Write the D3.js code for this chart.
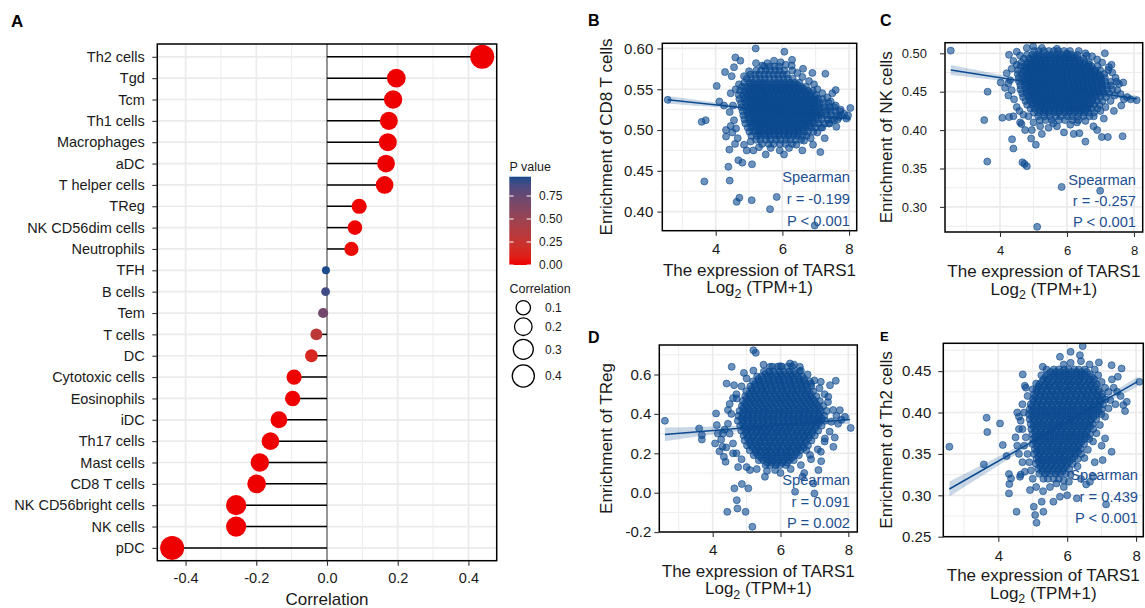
<!DOCTYPE html>
<html>
<head>
<meta charset="utf-8">
<title>TARS1 and immune infiltration</title>
<script src="https://cdn.jsdelivr.net/npm/d3@7/dist/d3.min.js"></script>
<style>
  html, body { margin: 0; padding: 0; background: #fff; }
  svg { display: block; }
  text { font-family: "Liberation Sans", Arial, Helvetica, sans-serif; }
</style>
</head>
<body>
<svg id="fig" width="1145" height="608"></svg>
<script>
// ---------- Panel A: Spearman correlation of TARS1 with immune cell enrichment ----------
const cellTypes = ["Th2 cells","Tgd","Tcm","Th1 cells","Macrophages","aDC","T helper cells","TReg",
  "NK CD56dim cells","Neutrophils","TFH","B cells","Tem","T cells","DC","Cytotoxic cells","Eosinophils",
  "iDC","Th17 cells","Mast cells","CD8 T cells","NK CD56bright cells","NK cells","pDC"];
const correlations = [0.439,0.196,0.187,0.175,0.172,0.167,0.163,0.091,0.079,0.069,-0.003,-0.004,
  -0.011,-0.030,-0.044,-0.093,-0.097,-0.136,-0.160,-0.190,-0.199,-0.257,-0.257,-0.438];
const pValues = [0,0,0,0,0,0,0,0.002,0.008,0.02,0.96,0.89,0.70,0.31,0.14,0.002,0.001,0,0,0,0,0,0,0];
const corrTicks = [-0.4,-0.2,0,0.2,0.4];
const corrMinor = [-0.3,-0.1,0.1,0.3];
const pLegendTicks = [0,0.25,0.5,0.75];
const sizeLegendValues = [0.1,0.2,0.3,0.4];

// ---------- Panels B-E: enrichment score vs TARS1 expression ----------
const scatterTitles = ["Enrichment of CD8 T cells","Enrichment of NK cells","Enrichment of TReg","Enrichment of Th2 cells"];
const spearmanR = ["-0.199","-0.257","0.091","0.439"];
const spearmanP = ["P < 0.001","P < 0.001","P = 0.002","P < 0.001"];
const exprTicks = [4,6,8];
const exprMinor = [3,5,7];
const scatterYTicks = [[0.40,0.45,0.50,0.55,0.60],[0.30,0.35,0.40,0.45,0.50],[-0.2,0,0.2,0.4,0.6],[0.25,0.30,0.35,0.40,0.45]];
const scatterYMinor = [[0.425,0.475,0.525,0.575],[0.275,0.325,0.375,0.425,0.475],[-0.1,0.1,0.3,0.5,0.7],[0.275,0.325,0.375,0.425,0.475]];
// linear fit: [x start, y start, x end, y end]
const fitEnds = [[2.56,0.537,8.05,0.5135],[2.53,0.4783,8.08,0.4405],[2.59,0.296,8.05,0.372],[2.58,0.3076,8.04,0.4372]];
// confidence half-width: [at mean expression, at lowest expression]
const bandHalfWidth = [[0.0012,0.0047],[0.0015,0.0065],[0.007,0.034],[0.002,0.009]];
const meanExpr = 5.9;

// CD8 T cells: scattered samples [expression, enrichment]
const cd8Spread = [[2.56,0.537],[3.58,0.510],[3.70,0.512],[3.66,0.437],[4.03,0.554],[4.11,0.535],[4.28,0.571],[4.38,0.455],[4.42,0.438],[4.31,0.500],[4.31,0.492],[4.59,0.589],[4.74,0.585],[4.55,0.577],[4.48,0.566],[4.68,0.463],[4.80,0.460],[4.63,0.412],[4.71,0.417],[5.09,0.458],[5.08,0.414],[5.20,0.600],[5.21,0.582],[5.63,0.403],[5.83,0.418],[6.06,0.596],[6.29,0.586],[6.28,0.579],[6.97,0.383],[7.29,0.569],[7.60,0.549],[8.04,0.527],[7.14,0.473],[7.62,0.504],[6.92,0.482],[4.41,0.476],[4.58,0.483],[4.93,0.475],[5.13,0.475],[5.92,0.475],[6.42,0.482],[7.27,0.490],
 [4.45,0.545],[4.52,0.530],[4.42,0.522],[4.55,0.512],[4.61,0.502],[4.50,0.497],[4.66,0.490],[4.85,0.482],[5.05,0.486],[5.30,0.479],[5.65,0.478],[6.20,0.478],[6.65,0.487],[6.85,0.490],[7.05,0.497],[7.20,0.503],[7.40,0.508],[7.55,0.512],[7.70,0.516],[7.85,0.520],[7.92,0.514],[7.75,0.525],[7.60,0.530],[7.45,0.535],[7.35,0.540],[7.20,0.545],[7.05,0.550],[6.95,0.556],[6.80,0.560],[6.60,0.565],[6.45,0.570],[6.30,0.573],[6.62,0.575],[6.10,0.580],[5.95,0.583],[5.75,0.585],[5.55,0.582],[5.40,0.579],[5.00,0.572],[4.85,0.566],[4.70,0.556],[4.60,0.550],[7.50,0.545],[6.90,0.570],[4.45,0.505],[4.25,0.530],[5.50,0.470],[6.05,0.470],[6.60,0.475],[7.35,0.525],[7.97,0.518]];
// CD8 T cells: dense samples grouped by enrichment level [enrichment, [expression...]]
const cd8Rows = [
 [0.578,[5.45,5.62,5.76,5.9]],
 [0.573,[5.22,5.36,5.5,5.63,5.79,5.92,6.06]],
 [0.568,[5.04,5.19,5.31,5.46,5.59,5.73,5.86,6.01,6.13]],
 [0.563,[4.93,5.06,5.21,5.34,5.47,5.61,5.76,5.89,6.03,6.17,6.31]],
 [0.558,[4.86,5.01,5.13,5.28,5.41,5.54,5.69,5.83,5.96,6.09,6.23,6.37,6.51]],
 [0.553,[4.79,4.91,5.06,5.19,5.33,5.46,5.59,5.73,5.87,6.01,6.14,6.29,6.43,6.57,6.71]],
 [0.548,[4.73,4.86,4.99,5.13,5.26,5.39,5.53,5.67,5.81,5.94,6.07,6.21,6.34,6.49,6.63,6.77,6.91]],
 [0.543,[4.69,4.83,4.96,5.09,5.21,5.36,5.49,5.61,5.76,5.89,6.03,6.16,6.29,6.43,6.57,6.71,6.84,7.01]],
 [0.538,[4.71,4.85,5.01,5.14,5.26,5.41,5.54,5.69,5.81,5.96,6.09,6.23,6.37,6.49,6.64,6.77,6.93,7.07,7.21]],
 [0.533,[4.76,4.89,5.03,5.15,5.29,5.44,5.56,5.71,5.84,5.99,6.11,6.26,6.39,6.54,6.67,6.81,6.94,7.11,7.24,7.39]],
 [0.528,[4.77,4.91,5.06,5.19,5.34,5.46,5.61,5.73,5.89,6.01,6.14,6.29,6.41,6.57,6.69,6.83,6.99,7.13,7.27,7.43,7.56]],
 [0.523,[4.81,4.94,5.09,5.21,5.37,5.49,5.64,5.76,5.91,6.03,6.19,6.31,6.46,6.59,6.74,6.86,7.01,7.14,7.31,7.44,7.59,7.73]],
 [0.518,[4.83,4.96,5.11,5.24,5.39,5.51,5.67,5.79,5.94,6.06,6.21,6.34,6.49,6.61,6.77,6.89,7.04,7.17,7.33,7.47,7.63,7.77]],
 [0.513,[4.86,4.99,5.14,5.26,5.41,5.54,5.69,5.81,5.97,6.09,6.24,6.36,6.51,6.64,6.79,6.91,7.07,7.19,7.36,7.49,7.66]],
 [0.508,[4.89,5.04,5.16,5.31,5.43,5.59,5.71,5.86,5.99,6.14,6.26,6.41,6.53,6.69,6.81,6.96,7.09,7.26,7.41]],
 [0.503,[4.96,5.07,5.23,5.34,5.49,5.61,5.77,5.89,6.04,6.16,6.31,6.44,6.59,6.71,6.87,6.99,7.16]],
 [0.498,[5.01,5.13,5.28,5.39,5.56,5.67,5.83,5.94,6.11,6.22,6.38,6.49,6.66,6.77,6.93]],
 [0.493,[5.07,5.23,5.34,5.51,5.62,5.78,5.89,6.06,6.17,6.33,6.44,6.61,6.73]],
 [0.488,[5.21,5.34,5.51,5.64,5.81,5.94,6.11,6.24,6.41,6.56]],
 [0.483,[5.39,5.59,5.74,5.93,6.09,6.29]],
 [0.5555,[5.07,5.2,5.34,5.48,5.62,5.76,5.9,6.03,6.17,6.31,6.45]],
 [0.5505,[4.98,5.12,5.26,5.4,5.53,5.67,5.8,5.95,6.08,6.22,6.36,6.5,6.64]],
 [0.5455,[4.92,5.05,5.19,5.33,5.46,5.6,5.74,5.88,6.01,6.15,6.29,6.42,6.56,6.7,6.84]],
 [0.5405,[4.9,5.04,5.18,5.31,5.45,5.59,5.73,5.86,6.0,6.14,6.28,6.42,6.55,6.69,6.83,6.97]],
 [0.5355,[4.93,5.07,5.21,5.35,5.48,5.62,5.76,5.9,6.04,6.17,6.31,6.45,6.59,6.72,6.87,7.02]],
 [0.5305,[4.96,5.1,5.24,5.38,5.52,5.66,5.8,5.93,6.07,6.21,6.35,6.49,6.63,6.77,6.91,7.06]],
 [0.5255,[4.99,5.13,5.27,5.41,5.55,5.69,5.83,5.97,6.11,6.25,6.39,6.53,6.67,6.81,6.95,7.1]],
 [0.5205,[5.01,5.15,5.29,5.43,5.57,5.71,5.85,5.99,6.13,6.27,6.41,6.55,6.69,6.83,6.97,7.11]],
 [0.5155,[5.03,5.17,5.31,5.46,5.6,5.74,5.88,6.02,6.16,6.3,6.44,6.58,6.72,6.86,7.0]],
 [0.5105,[5.08,5.22,5.36,5.5,5.64,5.78,5.92,6.06,6.2,6.34,6.48,6.62,6.76,6.9]],
 [0.5055,[5.12,5.27,5.41,5.55,5.69,5.83,5.97,6.11,6.25,6.39,6.53,6.67,6.81]],
 [0.5005,[5.2,5.34,5.48,5.62,5.76,5.9,6.04,6.18,6.32,6.46,6.6]],
 [0.4955,[5.3,5.45,5.6,5.75,5.9,6.05,6.2,6.35,6.5]]];

// NK cells
const nkSpread = [[2.53,0.5035],[3.63,0.450],[3.53,0.413],[3.62,0.359],[4.07,0.416],[4.27,0.417],[4.40,0.418],[4.02,0.462],[4.36,0.388],[4.40,0.376],[4.67,0.358],[4.73,0.356],[4.80,0.353],[4.64,0.408],[4.95,0.400],[4.93,0.389],[5.07,0.381],[5.84,0.326],[6.99,0.321],[5.11,0.274],[5.91,0.397],[6.37,0.396],[6.55,0.385],[7.04,0.391],[7.22,0.391],[7.66,0.392],[7.13,0.500],[7.33,0.485],[7.23,0.478],[7.48,0.463],[7.68,0.462],[8.08,0.439],[4.27,0.498],[4.50,0.502],[4.80,0.507],[4.99,0.509],[4.20,0.474],[4.25,0.461],[5.19,0.413],[5.59,0.409],[6.79,0.405],[6.00,0.500],[6.59,0.497],
 [4.40,0.490],[4.35,0.480],[4.30,0.465],[4.35,0.452],[4.42,0.440],[4.50,0.430],[4.58,0.425],[4.70,0.420],[4.85,0.418],[5.00,0.410],[5.20,0.405],[5.45,0.403],[5.70,0.405],[6.10,0.407],[6.30,0.410],[6.55,0.412],[6.80,0.418],[7.00,0.425],[7.15,0.430],[7.30,0.438],[7.42,0.445],[7.50,0.452],[7.55,0.460],[7.45,0.468],[7.35,0.475],[7.25,0.482],[7.05,0.488],[6.90,0.492],[6.75,0.496],[6.55,0.500],[6.35,0.503],[5.70,0.506],[5.25,0.507],[4.60,0.497],[4.50,0.485],[7.60,0.447],[7.70,0.440],[7.80,0.443],[7.90,0.440],[7.62,0.432],[7.40,0.425],[7.10,0.415],[4.60,0.410],[4.75,0.400],[5.25,0.395],[6.90,0.400],[6.20,0.395],[4.25,0.445],[4.15,0.455]];
const nkRows = [
 [0.503,[5.02,5.16,5.31,5.46,5.61,5.74,5.91,6.09]],
 [0.498,[4.81,4.96,5.11,5.24,5.41,5.54,5.71,5.84,6.01,6.14,6.31]],
 [0.493,[4.71,4.87,5.01,5.14,5.31,5.43,5.59,5.71,5.89,6.01,6.19,6.31,6.49]],
 [0.488,[4.64,4.81,4.93,5.09,5.21,5.37,5.49,5.66,5.79,5.95,6.07,6.23,6.37,6.53,6.66]],
 [0.483,[4.61,4.73,4.89,5.01,5.17,5.29,5.46,5.59,5.75,5.87,6.03,6.15,6.31,6.44,6.61,6.74,6.91]],
 [0.478,[4.54,4.71,4.83,4.99,5.11,5.28,5.39,5.56,5.69,5.85,5.97,6.13,6.26,6.41,6.54,6.71,6.83,6.99]],
 [0.473,[4.53,4.65,4.81,4.94,5.11,5.23,5.39,5.51,5.67,5.79,5.96,6.09,6.25,6.37,6.53,6.66,6.81,6.94,7.11]],
 [0.468,[4.56,4.69,4.85,4.97,5.14,5.26,5.42,5.54,5.71,5.83,5.99,6.12,6.28,6.4,6.56,6.69,6.85,6.97,7.13]],
 [0.463,[4.57,4.73,4.85,5.01,5.14,5.31,5.43,5.59,5.71,5.87,5.99,6.16,6.29,6.45,6.57,6.73,6.85,7.01,7.14,7.31]],
 [0.458,[4.61,4.74,4.91,5.03,5.19,5.31,5.47,5.59,5.76,5.89,6.05,6.17,6.33,6.45,6.61,6.74,6.91,7.03,7.19,7.31]],
 [0.453,[4.61,4.78,4.91,5.07,5.19,5.36,5.49,5.65,5.77,5.93,6.05,6.21,6.34,6.51,6.63,6.79,6.91,7.07,7.19,7.36]],
 [0.448,[4.66,4.79,4.96,5.09,5.25,5.37,5.53,5.65,5.81,5.94,6.11,6.23,6.39,6.51,6.67,6.79,6.96,7.09,7.26]],
 [0.443,[4.69,4.86,4.99,5.15,5.27,5.43,5.55,5.71,5.84,6.01,6.13,6.29,6.41,6.57,6.69,6.86,6.99,7.16]],
 [0.438,[4.76,4.89,5.06,5.19,5.35,5.47,5.63,5.75,5.91,6.03,6.19,6.31,6.47,6.59,6.76,6.89,7.06]],
 [0.433,[4.81,4.97,5.09,5.26,5.39,5.55,5.67,5.83,5.95,6.11,6.24,6.41,6.53,6.69,6.81,6.97]],
 [0.428,[4.91,5.03,5.19,5.31,5.47,5.59,5.76,5.89,6.05,6.17,6.33,6.45,6.61,6.74,6.91]],
 [0.423,[5.01,5.14,5.31,5.44,5.61,5.74,5.91,6.04,6.21,6.34,6.51,6.64,6.81]],
 [0.418,[5.14,5.33,5.49,5.67,5.81,6.01,6.15,6.33,6.49,6.67]],
 [0.413,[5.36,5.54,5.76,5.94,6.16,6.34]],
 [0.4955,[5.03,5.18,5.33,5.48,5.63,5.78,5.93,6.08,6.23]],
 [0.4905,[4.9,5.05,5.2,5.35,5.5,5.65,5.8,5.95,6.1,6.25,6.4]],
 [0.4855,[4.82,4.96,5.1,5.24,5.38,5.52,5.66,5.8,5.94,6.08,6.22,6.36,6.5,6.64]],
 [0.4805,[4.78,4.92,5.06,5.2,5.34,5.48,5.62,5.76,5.9,6.04,6.18,6.32,6.46,6.6,6.74]],
 [0.4755,[4.75,4.89,5.03,5.17,5.31,5.45,5.59,5.73,5.87,6.01,6.15,6.29,6.43,6.57,6.71,6.85]],
 [0.4705,[4.76,4.9,5.04,5.18,5.32,5.46,5.6,5.74,5.88,6.02,6.16,6.3,6.44,6.58,6.72,6.86,7.0]],
 [0.4655,[4.78,4.92,5.06,5.2,5.34,5.48,5.62,5.76,5.9,6.04,6.18,6.32,6.46,6.6,6.74,6.88,7.02]],
 [0.4605,[4.8,4.94,5.08,5.22,5.36,5.5,5.64,5.78,5.92,6.06,6.2,6.34,6.48,6.62,6.76,6.9,7.04]],
 [0.4555,[4.82,4.96,5.1,5.24,5.38,5.52,5.66,5.8,5.94,6.08,6.22,6.36,6.5,6.64,6.78,6.92,7.06]],
 [0.4505,[4.85,4.99,5.13,5.27,5.41,5.55,5.69,5.83,5.97,6.11,6.25,6.39,6.53,6.67,6.81,6.95]],
 [0.4455,[4.89,5.03,5.17,5.31,5.45,5.59,5.73,5.87,6.01,6.15,6.29,6.43,6.57,6.71,6.85]],
 [0.4405,[4.94,5.08,5.22,5.36,5.5,5.64,5.78,5.92,6.06,6.2,6.34,6.48,6.62,6.76]],
 [0.4355,[5.0,5.14,5.28,5.42,5.56,5.7,5.84,5.98,6.12,6.26,6.4,6.54,6.68]],
 [0.4305,[5.08,5.22,5.36,5.5,5.64,5.78,5.92,6.06,6.2,6.34,6.48,6.62]],
 [0.4255,[5.2,5.35,5.5,5.65,5.8,5.95,6.1,6.25,6.4,6.55]]];

// TReg
const tregSpread = [[2.59,0.365],[3.60,0.326],[3.68,0.292],[3.68,0.270],[4.07,0.250],[4.10,0.402],[4.12,0.343],[4.29,0.233],[4.33,0.182],[4.38,0.157],[4.41,0.554],[4.56,0.639],[4.63,0.546],[4.43,-0.097],[4.71,-0.038],[4.73,-0.080],[4.64,0.022],[4.86,0.044],[4.97,-0.097],[5.17,-0.173],[5.05,0.022],[5.10,0.115],[5.20,0.723],[5.27,0.710],[4.92,0.608],[4.71,0.478],[5.54,0.081],[5.84,0.115],[6.43,0.005],[6.65,0.081],[6.97,0.047],[7.12,0.115],[7.00,-0.004],[6.90,0.554],[7.19,0.563],[7.46,0.546],[7.63,0.568],[7.41,0.487],[7.75,0.419],[7.90,0.385],[8.07,0.329],[7.31,0.275],[7.56,0.233],[6.87,0.191],[7.19,0.208],[6.28,0.656],[5.99,0.642],[6.57,0.639],[5.69,0.639],
 [4.50,0.450],[4.55,0.400],[4.45,0.350],[4.50,0.300],[4.60,0.250],[4.70,0.200],[4.85,0.170],[5.00,0.130],[5.30,0.120],[5.60,0.110],[6.00,0.100],[6.30,0.120],[6.60,0.140],[6.90,0.170],[7.10,0.220],[7.30,0.260],[7.45,0.310],[7.50,0.360],[7.55,0.420],[7.40,0.460],[7.30,0.500],[7.15,0.530],[7.00,0.570],[6.80,0.600],[6.60,0.620],[6.40,0.650],[5.50,0.650],[5.20,0.620],[5.00,0.580],[4.85,0.540],[4.70,0.500],[4.60,0.480],[4.45,0.420],[7.65,0.390],[7.70,0.350],[7.80,0.370],[7.60,0.280],[4.30,0.300],[4.25,0.270],[4.35,0.320],[4.20,0.210],[4.15,0.300],[4.40,0.230],[4.60,0.200],[4.75,0.130],[6.70,0.100],[7.20,0.160]];
const tregRows = [
 [0.640,[5.76,5.92,6.04,6.21,6.34]],
 [0.615,[5.51,5.66,5.79,5.96,6.09,6.26,6.39,6.56]],
 [0.590,[5.31,5.44,5.61,5.74,5.91,6.04,6.21,6.34,6.51,6.64]],
 [0.565,[5.19,5.36,5.49,5.66,5.79,5.96,6.09,6.26,6.39,6.56,6.69,6.86]],
 [0.540,[5.11,5.24,5.41,5.54,5.71,5.84,6.01,6.14,6.31,6.44,6.61,6.74,6.91]],
 [0.515,[4.99,5.16,5.29,5.46,5.59,5.76,5.89,6.06,6.19,6.36,6.49,6.66,6.79,6.96]],
 [0.490,[4.96,5.09,5.26,5.39,5.56,5.69,5.86,5.99,6.16,6.29,6.46,6.59,6.76,6.89,7.06]],
 [0.465,[4.89,5.06,5.19,5.36,5.49,5.66,5.79,5.96,6.09,6.26,6.39,6.56,6.69,6.86,6.99,7.16]],
 [0.440,[4.86,4.99,5.16,5.29,5.46,5.59,5.76,5.89,6.06,6.19,6.36,6.49,6.66,6.79,6.96,7.09,7.26]],
 [0.415,[4.79,4.96,5.09,5.26,5.39,5.56,5.69,5.86,5.99,6.16,6.29,6.46,6.59,6.76,6.89,7.06,7.19,7.36]],
 [0.390,[4.76,4.89,5.06,5.19,5.36,5.49,5.66,5.79,5.96,6.09,6.26,6.39,6.56,6.69,6.86,6.99,7.16,7.29]],
 [0.365,[4.74,4.91,5.04,5.21,5.34,5.51,5.64,5.81,5.94,6.11,6.24,6.41,6.54,6.71,6.84,7.01,7.14,7.31]],
 [0.340,[4.81,4.94,5.11,5.24,5.41,5.54,5.71,5.84,6.01,6.14,6.31,6.44,6.61,6.74,6.91,7.04,7.21]],
 [0.315,[4.84,5.01,5.14,5.31,5.44,5.61,5.74,5.91,6.04,6.21,6.34,6.51,6.64,6.81,6.94,7.11]],
 [0.290,[4.91,5.04,5.21,5.34,5.51,5.64,5.81,5.94,6.11,6.24,6.41,6.54,6.71,6.84,7.01]],
 [0.265,[4.94,5.11,5.24,5.41,5.54,5.71,5.84,6.01,6.14,6.31,6.44,6.61,6.74,6.91]],
 [0.240,[5.01,5.14,5.31,5.44,5.61,5.74,5.91,6.04,6.21,6.34,6.51,6.64,6.81]],
 [0.215,[5.09,5.26,5.39,5.56,5.69,5.86,5.99,6.16,6.29,6.46,6.59,6.76]],
 [0.190,[5.21,5.34,5.51,5.64,5.81,5.94,6.11,6.24,6.41,6.54]],
 [0.165,[5.36,5.49,5.66,5.79,5.96,6.09,6.26,6.39]],
 [0.140,[5.56,5.69,5.86,5.99,6.16]],
 [0.6025,[5.55,5.7,5.85,6.0,6.15,6.3,6.45]],
 [0.5775,[5.35,5.5,5.65,5.8,5.95,6.1,6.25,6.4,6.55,6.7]],
 [0.5525,[5.25,5.4,5.55,5.7,5.85,6.0,6.15,6.3,6.45,6.6,6.75]],
 [0.5275,[5.15,5.3,5.45,5.6,5.75,5.9,6.05,6.2,6.35,6.5,6.65,6.8]],
 [0.5025,[5.08,5.23,5.38,5.53,5.68,5.83,5.98,6.13,6.28,6.43,6.58,6.73,6.88]],
 [0.4775,[5.0,5.15,5.3,5.45,5.6,5.75,5.9,6.05,6.2,6.35,6.5,6.65,6.8,6.95]],
 [0.4525,[4.95,5.1,5.25,5.4,5.55,5.7,5.85,6.0,6.15,6.3,6.45,6.6,6.75,6.9,7.05]],
 [0.4275,[4.9,5.05,5.2,5.35,5.5,5.65,5.8,5.95,6.1,6.25,6.4,6.55,6.7,6.85,7.0,7.15]],
 [0.4025,[4.88,5.03,5.18,5.33,5.48,5.63,5.78,5.93,6.08,6.23,6.38,6.53,6.68,6.83,6.98,7.13]],
 [0.3775,[4.85,5.0,5.15,5.3,5.45,5.6,5.75,5.9,6.05,6.2,6.35,6.5,6.65,6.8,6.95,7.1,7.22]],
 [0.3525,[4.88,5.03,5.18,5.33,5.48,5.63,5.78,5.93,6.08,6.23,6.38,6.53,6.68,6.83,6.98,7.13]],
 [0.3275,[4.92,5.07,5.22,5.37,5.52,5.67,5.82,5.97,6.12,6.27,6.42,6.57,6.72,6.87,7.02]],
 [0.3025,[4.98,5.13,5.28,5.43,5.58,5.73,5.88,6.03,6.18,6.33,6.48,6.63,6.78,6.93]],
 [0.2775,[5.03,5.18,5.33,5.48,5.63,5.78,5.93,6.08,6.23,6.38,6.53,6.68,6.83]],
 [0.2525,[5.08,5.23,5.38,5.53,5.68,5.83,5.98,6.13,6.28,6.43,6.58,6.73]],
 [0.2275,[5.18,5.33,5.48,5.63,5.78,5.93,6.08,6.23,6.38,6.53,6.68]],
 [0.2025,[5.28,5.43,5.58,5.73,5.88,6.03,6.18,6.33,6.48]],
 [0.1775,[5.43,5.58,5.73,5.88,6.03,6.18,6.33]],
 [0.1525,[5.6,5.75,5.9,6.05,6.2]]];

// Th2 cells
const th2Spread = [[2.58,0.3587],[3.58,0.3373],[3.66,0.3937],[3.68,0.3764],[4.05,0.3868],[4.13,0.3607],[4.24,0.3474],[4.31,0.3257],[4.37,0.3204],[4.32,0.3136],[4.31,0.3023],[4.53,0.2802],[4.71,0.446],[4.77,0.4323],[5.11,0.2669],[5.03,0.2862],[5.07,0.2762],[5.29,0.4552],[5.79,0.4673],[6.10,0.4733],[6.45,0.4802],[6.37,0.4693],[6.92,0.4605],[7.29,0.4572],[7.58,0.4532],[7.47,0.4432],[8.10,0.4371],[7.29,0.3526],[7.03,0.3425],[7.13,0.289],[6.28,0.2963],[5.79,0.2983],[5.60,0.2923],[5.26,0.2923],[5.31,0.2802],[6.76,0.3224],[6.66,0.3164],[6.55,0.3132],[6.05,0.3164],[5.69,0.3144],[7.63,0.409],[7.68,0.4017],[7.73,0.413],[7.10,0.3687],[4.63,0.3224],[4.77,0.3285],[4.92,0.3063],
 [4.70,0.410],[4.75,0.400],[4.65,0.390],[4.70,0.380],[4.60,0.395],[4.80,0.370],[4.75,0.360],[4.85,0.350],[4.90,0.340],[4.95,0.330],[5.00,0.320],[5.10,0.310],[5.30,0.305],[5.50,0.310],[5.90,0.318],[6.10,0.325],[6.30,0.335],[6.50,0.345],[6.60,0.355],[6.75,0.365],[6.85,0.375],[6.95,0.385],[7.10,0.395],[7.20,0.405],[7.25,0.415],[7.20,0.425],[7.10,0.430],[7.00,0.437],[6.90,0.445],[6.80,0.452],[6.65,0.458],[6.40,0.462],[6.10,0.460],[5.90,0.458],[5.40,0.452],[5.25,0.445],[5.10,0.435],[5.00,0.428],[4.85,0.420],[4.80,0.430],[7.35,0.430],[7.45,0.425],[7.55,0.420],[7.40,0.410],[7.30,0.440],[4.55,0.400],[4.60,0.380],[4.55,0.360],[4.50,0.370],[4.60,0.350],[4.70,0.340],[4.65,0.325],[5.90,0.310],[6.00,0.300],[6.40,0.320],[6.80,0.340],[7.00,0.360]];
const th2Rows = [
 [0.452,[5.61,5.76,5.91,6.04,6.21,6.34,6.51]],
 [0.446,[5.44,5.61,5.74,5.91,6.04,6.21,6.36,6.49,6.66]],
 [0.440,[5.31,5.44,5.61,5.76,5.89,6.06,6.19,6.36,6.49,6.66,6.79]],
 [0.434,[5.19,5.36,5.49,5.66,5.79,5.96,6.09,6.26,6.39,6.56,6.69,6.86]],
 [0.428,[5.11,5.24,5.41,5.54,5.71,5.84,6.01,6.14,6.31,6.44,6.61,6.74,6.91]],
 [0.422,[5.04,5.21,5.34,5.51,5.64,5.81,5.94,6.11,6.24,6.41,6.54,6.71,6.84,7.01]],
 [0.416,[5.01,5.14,5.31,5.44,5.61,5.74,5.91,6.04,6.21,6.34,6.51,6.64,6.81,6.94,7.11]],
 [0.410,[4.94,5.11,5.24,5.41,5.54,5.71,5.84,6.01,6.14,6.31,6.44,6.61,6.74,6.91,7.04]],
 [0.404,[4.91,5.04,5.21,5.34,5.51,5.64,5.81,5.94,6.11,6.24,6.41,6.54,6.71,6.84,7.01]],
 [0.398,[4.89,5.06,5.19,5.36,5.49,5.66,5.79,5.96,6.09,6.26,6.39,6.56,6.69,6.86,6.99]],
 [0.392,[4.91,5.04,5.21,5.34,5.51,5.64,5.81,5.94,6.11,6.24,6.41,6.54,6.71,6.84]],
 [0.386,[4.94,5.11,5.24,5.41,5.54,5.71,5.84,6.01,6.14,6.31,6.44,6.61,6.74]],
 [0.380,[4.96,5.09,5.26,5.39,5.56,5.69,5.86,5.99,6.16,6.29,6.46,6.59,6.76]],
 [0.374,[4.99,5.16,5.29,5.46,5.59,5.76,5.89,6.06,6.19,6.36,6.49,6.66]],
 [0.368,[5.01,5.14,5.31,5.44,5.61,5.74,5.91,6.04,6.21,6.34,6.51,6.64]],
 [0.362,[4.99,5.16,5.29,5.46,5.59,5.76,5.89,6.06,6.19,6.36,6.49]],
 [0.356,[5.06,5.19,5.36,5.49,5.66,5.79,5.96,6.09,6.26,6.39]],
 [0.350,[5.04,5.21,5.34,5.51,5.64,5.81,5.94,6.11,6.24,6.41]],
 [0.344,[5.11,5.24,5.41,5.54,5.71,5.84,6.01,6.14,6.31]],
 [0.338,[5.09,5.26,5.39,5.56,5.69,5.86,5.99,6.16]],
 [0.332,[5.16,5.29,5.46,5.59,5.76,5.89,6.06]],
 [0.326,[5.19,5.36,5.49,5.66,5.79,5.96]],
 [0.320,[5.31,5.44,5.61,5.76]],
 [0.449,[5.52,5.67,5.82,5.97,6.12,6.27,6.42,6.57]],
 [0.443,[5.37,5.52,5.67,5.82,5.97,6.12,6.27,6.42,6.57,6.72]],
 [0.437,[5.27,5.42,5.57,5.72,5.87,6.02,6.17,6.32,6.47,6.62,6.77]],
 [0.431,[5.17,5.32,5.47,5.62,5.77,5.92,6.07,6.22,6.37,6.52,6.67,6.82]],
 [0.425,[5.12,5.27,5.42,5.57,5.72,5.87,6.02,6.17,6.32,6.47,6.62,6.77,6.92]],
 [0.419,[5.07,5.22,5.37,5.52,5.67,5.82,5.97,6.12,6.27,6.42,6.57,6.72,6.87,7.02]],
 [0.413,[5.02,5.17,5.32,5.47,5.62,5.77,5.92,6.07,6.22,6.37,6.52,6.67,6.82,6.97]],
 [0.407,[4.97,5.12,5.27,5.42,5.57,5.72,5.87,6.02,6.17,6.32,6.47,6.62,6.77,6.92]],
 [0.401,[4.97,5.12,5.27,5.42,5.57,5.72,5.87,6.02,6.17,6.32,6.47,6.62,6.77,6.92]],
 [0.395,[4.97,5.12,5.27,5.42,5.57,5.72,5.87,6.02,6.17,6.32,6.47,6.62,6.77]],
 [0.389,[5.02,5.17,5.32,5.47,5.62,5.77,5.92,6.07,6.22,6.37,6.52,6.67]],
 [0.383,[5.02,5.17,5.32,5.47,5.62,5.77,5.92,6.07,6.22,6.37,6.52,6.67]],
 [0.377,[5.07,5.22,5.37,5.52,5.67,5.82,5.97,6.12,6.27,6.42,6.57]],
 [0.371,[5.07,5.22,5.37,5.52,5.67,5.82,5.97,6.12,6.27,6.42,6.57]],
 [0.365,[5.07,5.22,5.37,5.52,5.67,5.82,5.97,6.12,6.27,6.42]],
 [0.359,[5.12,5.27,5.42,5.57,5.72,5.87,6.02,6.17,6.32]],
 [0.353,[5.12,5.27,5.42,5.57,5.72,5.87,6.02,6.17,6.32]],
 [0.347,[5.17,5.32,5.47,5.62,5.77,5.92,6.07,6.22]],
 [0.341,[5.17,5.32,5.47,5.62,5.77,5.92,6.07]],
 [0.335,[5.22,5.37,5.52,5.67,5.82,5.97]],
 [0.329,[5.27,5.42,5.57,5.72,5.87]]];

const scatterSpread = [cd8Spread, nkSpread, tregSpread, th2Spread];
const scatterRows = [cd8Rows, nkRows, tregRows, th2Rows];

// ---------- drawing ----------
const svg = d3.select("#fig");
const defs = svg.append("defs");
const ink = "#1a1a1a";
const gridCol = "#ebebeb";
const blue = "#0b4a8f";

// ===== Panel A =====
const frameA = {x0: 157.3, x1: 496.7, y0: 44, y1: 560.7};
const xA = d3.scaleLinear().domain([-0.48, 0.48]).range([frameA.x0, frameA.x1]);
const yA = d3.scalePoint().domain(cellTypes).range([frameA.y0, frameA.y1]).padding(0.6);
const sizeNorm = d3.scaleLinear().domain(d3.extent(correlations.map(Math.abs))).range([0, 1]).clamp(true);
const radiusScale = d3.scaleLinear().domain([0, 1]).range([4, 12]);
const dotRadius = v => radiusScale(Math.sqrt(sizeNorm(Math.abs(v))));
const pMax = d3.max(pValues);
const pColor = d3.scaleLinear().domain([0, pMax]).range(["#ee0000", "#1b4b8d"]).interpolate(d3.interpolateLab);

const lollipop = cellTypes.map((c, i) => ({cell: c, r: correlations[i], p: pValues[i]}));

const gA = svg.append("g");
gA.append("rect").attr("x", frameA.x0).attr("y", frameA.y0)
  .attr("width", frameA.x1 - frameA.x0).attr("height", frameA.y1 - frameA.y0).attr("fill", "#fff");
gA.selectAll("line.vminor").data(corrMinor).join("line").attr("class", "vminor")
  .attr("x1", d => xA(d)).attr("x2", d => xA(d)).attr("y1", frameA.y0).attr("y2", frameA.y1)
  .attr("stroke", gridCol).attr("stroke-width", 0.9);
gA.selectAll("line.vmajor").data(corrTicks).join("line").attr("class", "vmajor")
  .attr("x1", d => xA(d)).attr("x2", d => xA(d)).attr("y1", frameA.y0).attr("y2", frameA.y1)
  .attr("stroke", gridCol).attr("stroke-width", 1.7);
gA.selectAll("line.hmajor").data(cellTypes).join("line").attr("class", "hmajor")
  .attr("x1", frameA.x0).attr("x2", frameA.x1).attr("y1", d => yA(d)).attr("y2", d => yA(d))
  .attr("stroke", gridCol).attr("stroke-width", 1.7);
gA.append("line").attr("x1", xA(0)).attr("x2", xA(0)).attr("y1", frameA.y0).attr("y2", frameA.y1)
  .attr("stroke", "#7f7f7f").attr("stroke-width", 1.6);
gA.selectAll("line.stem").data(lollipop).join("line").attr("class", "stem")
  .attr("x1", xA(0)).attr("x2", d => xA(d.r)).attr("y1", d => yA(d.cell)).attr("y2", d => yA(d.cell))
  .attr("stroke", "#000").attr("stroke-width", 1.5);
gA.selectAll("circle.dot").data(lollipop).join("circle").attr("class", "dot")
  .attr("cx", d => xA(d.r)).attr("cy", d => yA(d.cell)).attr("r", d => dotRadius(d.r))
  .attr("fill", d => pColor(d.p));
gA.append("rect").attr("x", frameA.x0).attr("y", frameA.y0)
  .attr("width", frameA.x1 - frameA.x0).attr("height", frameA.y1 - frameA.y0)
  .attr("fill", "none").attr("stroke", "#000").attr("stroke-width", 1.5);

function styleAxis(g, fs) {
  g.select(".domain").remove();
  g.selectAll(".tick line").attr("stroke", "#333").attr("stroke-width", 1.1);
  g.selectAll(".tick text").attr("fill", ink).attr("font-size", fs + "px")
    .attr("font-family", '"Liberation Sans", Arial, sans-serif');
}
const axAy = gA.append("g").attr("transform", `translate(${frameA.x0},0)`)
  .call(d3.axisLeft(yA).tickSize(5).tickPadding(7.5));
styleAxis(axAy, 14.5);
const axAx = gA.append("g").attr("transform", `translate(0,${frameA.y1})`)
  .call(d3.axisBottom(xA).tickValues(corrTicks).tickSize(5).tickPadding(7).tickFormat(d => d.toFixed(1)));
styleAxis(axAx, 14.5);
gA.append("text").attr("x", xA(0)).attr("y", 605).attr("text-anchor", "middle")
  .attr("font-size", "17px").attr("fill", ink).text("Correlation");
gA.append("text").attr("x", 11).attr("y", 26.5).attr("font-size", "17px").attr("font-weight", "bold")
  .attr("fill", "#000").text("A");

// P value colour bar
const barX = 509.3, barW = 21.7;
const pY = d3.scaleLinear().domain([0, pMax]).range([265, 176.7]);
const grad = defs.append("linearGradient").attr("id", "pgrad").attr("x1", 0).attr("y1", 1).attr("x2", 0).attr("y2", 0);
d3.range(0, 11).forEach(k => grad.append("stop").attr("offset", k / 10).attr("stop-color", pColor(pMax * k / 10)));
const gL = svg.append("g");
gL.append("text").attr("x", 509.5).attr("y", 170.5).attr("font-size", "12.5px").attr("fill", ink).text("P value");
gL.append("rect").attr("x", barX).attr("y", pY(pMax)).attr("width", barW).attr("height", pY(0) - pY(pMax))
  .attr("fill", "url(#pgrad)");
pLegendTicks.forEach(v => {
  gL.append("line").attr("x1", barX).attr("x2", barX + 4.3).attr("y1", pY(v)).attr("y2", pY(v))
    .attr("stroke", "#fff").attr("stroke-width", 1);
  gL.append("line").attr("x1", barX + barW - 4.3).attr("x2", barX + barW).attr("y1", pY(v)).attr("y2", pY(v))
    .attr("stroke", "#fff").attr("stroke-width", 1);
  gL.append("text").attr("x", 539).attr("y", pY(v)).attr("dy", "0.36em").attr("font-size", "12px")
    .attr("fill", ink).text(v.toFixed(2));
});
// Correlation size legend
const sizeKeyY = [307.7, 326.7, 349.3, 376];
gL.append("text").attr("x", 509.5).attr("y", 293).attr("font-size", "12.5px").attr("fill", ink).text("Correlation");
sizeLegendValues.forEach((v, k) => {
  gL.append("circle").attr("cx", 523.3).attr("cy", sizeKeyY[k]).attr("r", dotRadius(v) - 0.6)
    .attr("fill", "none").attr("stroke", "#000").attr("stroke-width", 1.3);
  gL.append("text").attr("x", 545).attr("y", sizeKeyY[k]).attr("dy", "0.36em").attr("font-size", "12px")
    .attr("fill", ink).text(v.toFixed(1));
});

// ===== Panels B-E =====
const scatterLayout = [
  {tag: "B", x0: 662.3, x1: 856.7, y0: 43.3, y1: 230.7, xd: [2.398, 8.23], yd: [0.3766, 0.6063], dec: 2,
   fs: 15, yPad: 4, xPad: 8, yTitleX: 612, xt1: 275.5, xt2: 293, annX: 850, annY: [182, 204, 225.5], labX: 588, labY: 26, labFs: 16},
  {tag: "C", x0: 945, x1: 1142.7, y0: 42.7, y1: 232, xd: [2.358, 8.26], yd: [0.2673, 0.5138], dec: 2,
   fs: 13, yPad: 13, xPad: 9, yTitleX: 892, xt1: 277, xt2: 294.5, annX: 1136, annY: [184.5, 205.5, 226.5], labX: 880, labY: 26, labFs: 16},
  {tag: "D", x0: 659.3, x1: 857.3, y0: 345, y1: 532, xd: [2.425, 8.265], yd: [-0.1995, 0.7497], dec: 1,
   fs: 15, yPad: 3, xPad: 7.5, yTitleX: 612, xt1: 576.5, xt2: 594, annX: 850, annY: [485, 507, 528], labX: 588, labY: 343, labFs: 16},
  {tag: "E", x0: 943.3, x1: 1143.3, y0: 343.3, y1: 536.7, xd: [2.403, 8.21], yd: [0.25, 0.4836], dec: 2,
   fs: 15, yPad: 7, xPad: 9, yTitleX: 892, xt1: 581, xt2: 598.5, annX: 1138, annY: [480, 502, 523], labX: 880, labY: 341, labFs: 13}
];

scatterLayout.forEach((L, i) => {
  const x = d3.scaleLinear().domain(L.xd).range([L.x0, L.x1]);
  const y = d3.scaleLinear().domain(L.yd).range([L.y1, L.y0]);
  const g = svg.append("g");
  const clipId = "clip" + L.tag;
  defs.append("clipPath").attr("id", clipId).append("rect")
    .attr("x", L.x0).attr("y", L.y0).attr("width", L.x1 - L.x0).attr("height", L.y1 - L.y0);

  g.append("rect").attr("x", L.x0).attr("y", L.y0).attr("width", L.x1 - L.x0).attr("height", L.y1 - L.y0).attr("fill", "#fff");
  const grid = g.append("g").attr("clip-path", `url(#${clipId})`);
  grid.selectAll("line.xm").data(exprMinor).join("line").attr("x1", d => x(d)).attr("x2", d => x(d))
    .attr("y1", L.y0).attr("y2", L.y1).attr("stroke", gridCol).attr("stroke-width", 0.9);
  grid.selectAll("line.ym").data(scatterYMinor[i]).join("line").attr("y1", d => y(d)).attr("y2", d => y(d))
    .attr("x1", L.x0).attr("x2", L.x1).attr("stroke", gridCol).attr("stroke-width", 0.9);
  grid.selectAll("line.xM").data(exprTicks).join("line").attr("x1", d => x(d)).attr("x2", d => x(d))
    .attr("y1", L.y0).attr("y2", L.y1).attr("stroke", gridCol).attr("stroke-width", 1.7);
  grid.selectAll("line.yM").data(scatterYTicks[i]).join("line").attr("y1", d => y(d)).attr("y2", d => y(d))
    .attr("x1", L.x0).attr("x2", L.x1).attr("stroke", gridCol).attr("stroke-width", 1.7);

  // samples
  const pts = scatterSpread[i].concat(scatterRows[i].flatMap(([yv, xs]) => xs.map(xv => [xv, yv])));
  g.append("g").attr("clip-path", `url(#${clipId})`)
    .selectAll("circle").data(pts).join("circle")
    .attr("cx", d => x(d[0])).attr("cy", d => y(d[1])).attr("r", 3.5)
    .attr("fill", blue).attr("fill-opacity", 0.6)
    .attr("stroke", blue).attr("stroke-opacity", 0.6).attr("stroke-width", 1);

  // linear fit with confidence band
  const [fx0, fy0, fx1, fy1] = fitEnds[i];
  const slope = (fy1 - fy0) / (fx1 - fx0);
  const fitY = v => fy0 + slope * (v - fx0);
  const [seMid, seLow] = bandHalfWidth[i];
  const k = Math.sqrt(seLow * seLow - seMid * seMid) / (meanExpr - fx0);
  const half = v => Math.sqrt(seMid * seMid + (k * (v - meanExpr)) ** 2);
  const xs = d3.range(0, 61).map(j => fx0 + (fx1 - fx0) * j / 60);
  const fg = g.append("g").attr("clip-path", `url(#${clipId})`);
  fg.append("path").datum(xs)
    .attr("d", d3.area().x(v => x(v)).y0(v => y(fitY(v) - half(v))).y1(v => y(fitY(v) + half(v))))
    .attr("fill", blue).attr("fill-opacity", 0.22);
  fg.append("path").datum([fx0, fx1])
    .attr("d", d3.line().x(v => x(v)).y(v => y(fitY(v))))
    .attr("fill", "none").attr("stroke", blue).attr("stroke-width", 1.5);

  // Spearman annotation
  [ "Spearman", "r = " + spearmanR[i], spearmanP[i] ].forEach((s, j) => {
    g.append("text").attr("x", L.annX).attr("y", L.annY[j]).attr("text-anchor", "end")
      .attr("font-size", "14.7px").attr("fill", "#1d4f91").text(s);
  });

  g.append("rect").attr("x", L.x0).attr("y", L.y0).attr("width", L.x1 - L.x0).attr("height", L.y1 - L.y0)
    .attr("fill", "none").attr("stroke", "#000").attr("stroke-width", 1.5);

  const ay = g.append("g").attr("transform", `translate(${L.x0},0)`)
    .call(d3.axisLeft(y).tickValues(scatterYTicks[i]).tickSize(5).tickPadding(L.yPad).tickFormat(d => d.toFixed(L.dec)));
  styleAxis(ay, L.fs);
  const ax = g.append("g").attr("transform", `translate(0,${L.y1})`)
    .call(d3.axisBottom(x).tickValues(exprTicks).tickSize(5).tickPadding(L.xPad).tickFormat(d3.format("d")));
  styleAxis(ax, L.fs);

  const cy = (L.y0 + L.y1) / 2, cx = (L.x0 + L.x1) / 2;
  g.append("text").attr("transform", `translate(${L.yTitleX},${cy}) rotate(-90)`).attr("text-anchor", "middle")
    .attr("font-size", "17px").attr("fill", ink).text(scatterTitles[i]);
  // two-line x title: expression, then log2 unit
  const xt = g.append("text").attr("x", cx).attr("y", L.xt1).attr("text-anchor", "middle")
    .attr("font-size", "17px").attr("fill", ink);
  xt.append("tspan").attr("x", cx).text("The expression of TARS1");
  xt.append("tspan").attr("x", cx).attr("dy", L.xt2 - L.xt1).text("Log");
  xt.append("tspan").attr("dy", 4.5).attr("font-size", "12.5px").text("2");
  xt.append("tspan").attr("dy", -4.5).text(" (TPM+1)");

  g.append("text").attr("x", L.labX).attr("y", L.labY).attr("font-size", L.labFs + "px")
    .attr("font-weight", "bold").attr("fill", "#000").text(L.tag);
});
</script>
</body>
</html>
